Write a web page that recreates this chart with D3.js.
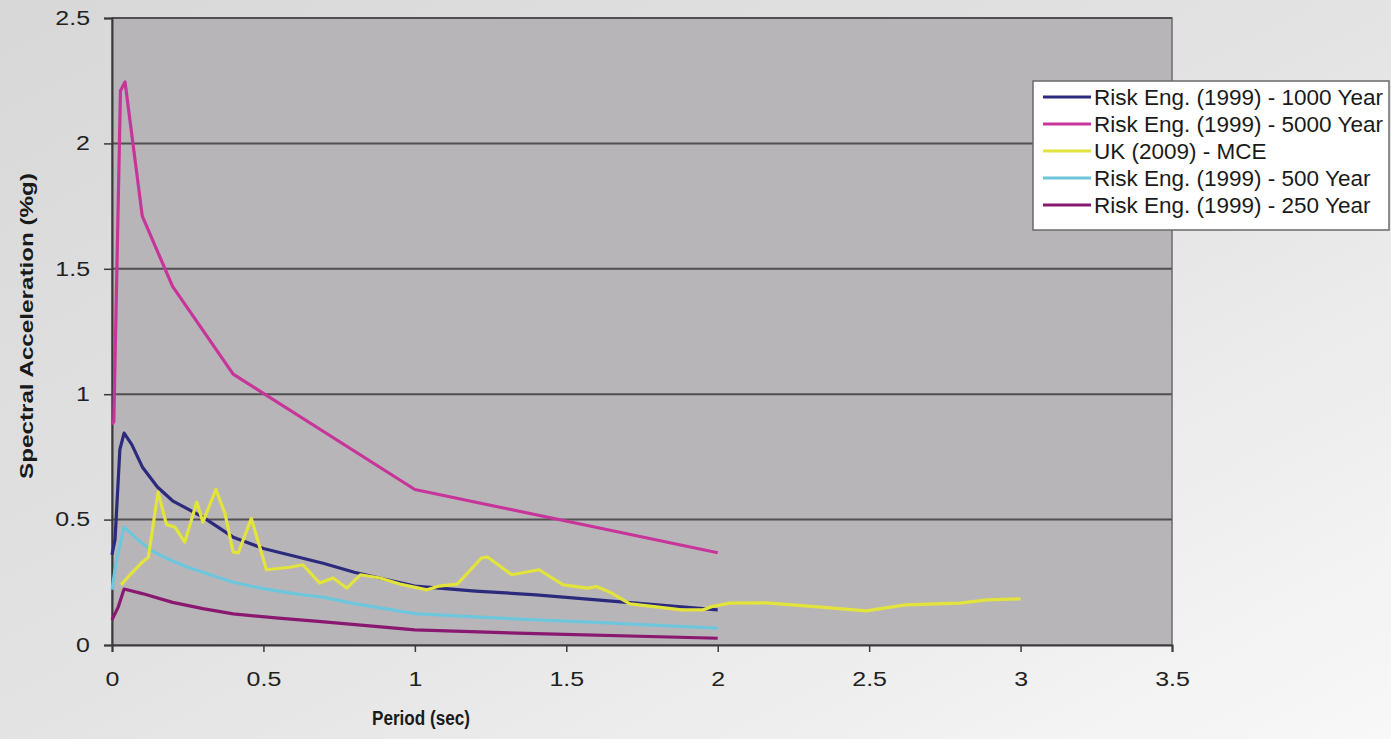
<!DOCTYPE html>
<html>
<head>
<meta charset="utf-8">
<script src="https://cdn.jsdelivr.net/npm/d3@7"></script>
<style>
  html, body { margin: 0; padding: 0; background: #e6e6e6; }
  svg { display: block; }
  text { font-family: "Liberation Sans", Arial, sans-serif; }
</style>
</head>
<body>
<svg id="chart" width="1391" height="739"></svg>
<script>
// ---- data ----
const seriesNames = [
  "Risk Eng. (1999) - 1000 Year",
  "Risk Eng. (1999) - 5000 Year",
  "UK (2009) - MCE",
  "Risk Eng. (1999) - 500 Year",
  "Risk Eng. (1999) - 250 Year"
];
const seriesColors = ["#2c2a7c", "#c8359a", "#e2e43c", "#6ec6dc", "#8a1870"];

const period1000 = [0, 0.01, 0.026, 0.04, 0.065, 0.1, 0.15, 0.2, 0.3, 0.4, 0.5, 0.6, 0.7, 0.8, 1.0, 1.2, 1.4, 1.6, 1.8, 2.0];
const sa1000     = [0.36, 0.42, 0.78, 0.845, 0.80, 0.71, 0.63, 0.575, 0.51, 0.43, 0.385, 0.355, 0.325, 0.29, 0.235, 0.215, 0.2, 0.18, 0.16, 0.14];

const period5000 = [0, 0.006, 0.028, 0.043, 0.1, 0.2, 0.4, 1.0, 2.0];
const sa5000     = [0.88, 0.89, 2.21, 2.245, 1.71, 1.43, 1.08, 0.62, 0.368];

const periodUK = [0.03, 0.065, 0.1, 0.12, 0.152, 0.18, 0.208, 0.24, 0.28, 0.30, 0.343, 0.373, 0.40, 0.417, 0.46, 0.51, 0.587, 0.63, 0.686, 0.73, 0.775, 0.82, 0.885, 0.95, 1.04, 1.08, 1.14, 1.22, 1.24, 1.32, 1.41, 1.49, 1.57, 1.60, 1.65, 1.71, 1.79, 1.88, 1.95, 1.98, 2.04, 2.16, 2.33, 2.49, 2.62, 2.80, 2.89, 3.0];
const saUK     = [0.24, 0.287, 0.33, 0.35, 0.61, 0.48, 0.47, 0.41, 0.57, 0.49, 0.62, 0.525, 0.37, 0.367, 0.505, 0.30, 0.31, 0.32, 0.247, 0.267, 0.227, 0.28, 0.267, 0.243, 0.22, 0.235, 0.243, 0.347, 0.351, 0.28, 0.30, 0.24, 0.227, 0.233, 0.207, 0.164, 0.153, 0.14, 0.14, 0.153, 0.167, 0.168, 0.152, 0.136, 0.16, 0.167, 0.18, 0.184];

const period500 = [0, 0.015, 0.04, 0.085, 0.14, 0.2, 0.25, 0.4, 0.5, 0.6, 0.7, 0.8, 1.0, 1.2, 1.4, 1.6, 1.8, 2.0];
const sa500     = [0.22, 0.34, 0.47, 0.42, 0.37, 0.335, 0.31, 0.25, 0.225, 0.205, 0.19, 0.165, 0.125, 0.112, 0.10, 0.09, 0.078, 0.067];

const period250 = [0, 0.02, 0.04, 0.1, 0.2, 0.3, 0.4, 0.55, 0.7, 1.0, 1.4, 2.0];
const sa250     = [0.10, 0.15, 0.223, 0.205, 0.17, 0.145, 0.124, 0.107, 0.092, 0.06, 0.045, 0.027];

const xTicks = [0, 0.5, 1, 1.5, 2, 2.5, 3, 3.5];
const yTicks = [0, 0.5, 1, 1.5, 2, 2.5];
const xTitle = "Period (sec)";
const yTitle = "Spectral Acceleration (%g)";

// ---- build ----
const allX = [period1000, period5000, periodUK, period500, period250];
const allY = [sa1000, sa5000, saUK, sa500, sa250];
const series = seriesNames.map((name, i) => ({
  name, color: seriesColors[i],
  points: allX[i].map((x, j) => ({x, y: allY[i][j]}))
}));
const drawOrder = [1, 4, 3, 0, 2];

const svg = d3.select("#chart");
const W = 1391, H = 739;
const m = {left: 112, right: 1391 - 1172, top: 18, bottom: 739 - 645};

const defs = svg.append("defs");
const grad = defs.append("linearGradient").attr("id", "bg")
  .attr("x1", "0").attr("y1", "0").attr("x2", "1").attr("y2", "1");
grad.append("stop").attr("offset", "0").attr("stop-color", "#d8d8d9");
grad.append("stop").attr("offset", "0.5").attr("stop-color", "#e3e3e4");
grad.append("stop").attr("offset", "1").attr("stop-color", "#f8f8f8");
svg.append("rect").attr("width", W).attr("height", H).attr("fill", "url(#bg)");

const x = d3.scaleLinear().domain([0, 3.5]).range([m.left, W - m.right]);
const y = d3.scaleLinear().domain([0, 2.5]).range([H - m.bottom, m.top]);

// plot area
svg.append("rect")
  .attr("x", x(0)).attr("y", y(2.5))
  .attr("width", x(3.5) - x(0)).attr("height", y(0) - y(2.5))
  .attr("fill", "#b8b5b9")
  .attr("stroke", "#6d6b6e").attr("stroke-width", 1.5);

// gridlines
svg.append("g")
  .selectAll("line").data(yTicks.filter(d => d > 0)).join("line")
  .attr("x1", x(0)).attr("x2", x(3.5))
  .attr("y1", d => y(d)).attr("y2", d => y(d))
  .attr("stroke", "#505050").attr("stroke-width", 2);

// axes
const yAxis = d3.axisLeft(y).tickValues(yTicks).tickFormat(d3.format("")).tickSize(8).tickPadding(0);
const xAxis = d3.axisBottom(x).tickValues(xTicks).tickFormat(d3.format("")).tickSize(7).tickPadding(20);

const gy = svg.append("g").attr("transform", `translate(${x(0)},0)`).call(yAxis);
const gx = svg.append("g").attr("transform", `translate(0,${y(0)})`).call(xAxis);
[gy, gx].forEach(g => {
  g.select(".domain").attr("stroke", "#3a3a3a").attr("stroke-width", 2);
  g.selectAll(".tick line").attr("stroke", "#3a3a3a").attr("stroke-width", 1.5);
  g.selectAll(".tick text").attr("fill", "#222").attr("font-size", 19.5)
    .attr("font-family", "'Liberation Sans', Arial, sans-serif");
});
// horizontally widened tick labels, like the scanned original
gy.selectAll(".tick text").attr("x", 0)
  .attr("transform", "translate(-22,0) scale(1.28,1)");
gx.selectAll(".tick text")
  .attr("transform", "scale(1.28,1)");

// lines
const line = d3.line().x(d => x(d.x)).y(d => y(d.y));
svg.append("g").selectAll("path").data(drawOrder.map(i => series[i])).join("path")
  .attr("d", d => line(d.points))
  .attr("fill", "none")
  .attr("stroke", d => d.color)
  .attr("stroke-width", 3.2)
  .attr("stroke-linejoin", "round");

// axis titles
svg.append("text").attr("x", 421).attr("y", 725)
  .attr("text-anchor", "middle").attr("font-size", 20).attr("font-weight", "bold")
  .attr("textLength", 98).attr("lengthAdjust", "spacingAndGlyphs")
  .attr("fill", "#1a1a1a").text(xTitle);
svg.append("text")
  .attr("transform", `translate(33,326) rotate(-90)`)
  .attr("text-anchor", "middle").attr("font-size", 19).attr("font-weight", "bold")
  .attr("textLength", 306).attr("lengthAdjust", "spacingAndGlyphs")
  .attr("fill", "#1a1a1a").text(yTitle);

// legend
const lg = svg.append("g").attr("transform", "translate(1033,81)");
lg.append("rect").attr("width", 356).attr("height", 149)
  .attr("fill", "#ffffff").attr("stroke", "#6a6a6a").attr("stroke-width", 1.5);
const items = lg.selectAll("g").data(series).join("g")
  .attr("transform", (d, i) => `translate(0,${16 + i * 27})`);
items.append("line").attr("x1", 10).attr("x2", 58)
  .attr("stroke", d => d.color).attr("stroke-width", 3);
items.append("text").attr("x", 61).attr("y", 8)
  .attr("font-size", 22.5).attr("fill", "#1a1a1a").text(d => d.name);
</script>
</body>
</html>
